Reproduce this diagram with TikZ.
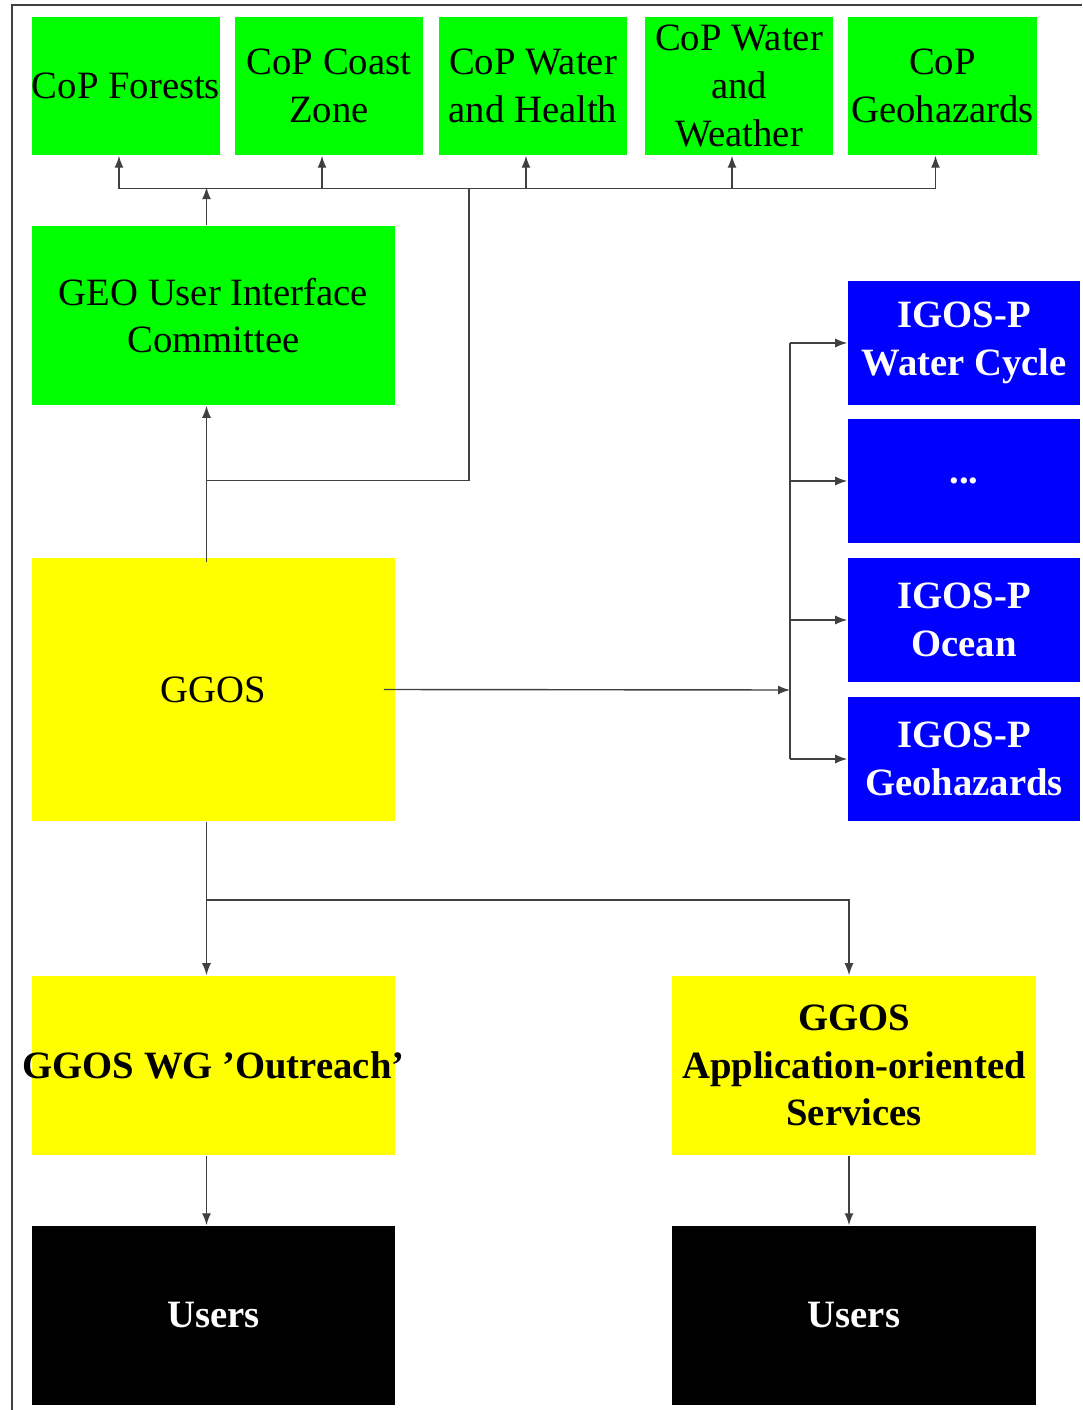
\documentclass[tikz,border=0pt]{standalone}
\usepackage{fontspec}
\setmainfont{Liberation Serif}
\usetikzlibrary{arrows.meta}
\definecolor{cgreen}{RGB}{0,255,0}
\definecolor{cblue}{RGB}{0,0,255}
\definecolor{cyellow}{RGB}{255,255,0}

\begin{document}
\begin{tikzpicture}[x=0.01cm,y=-0.01cm,
    every node/.style={inner sep=0pt,align=center,font=\fontsize{11}{13.6}\selectfont},
    cop/.style={fill=cgreen,minimum width=1.88cm,minimum height=1.38cm},
    wide/.style={minimum width=3.63cm,minimum height=1.79cm},
    igos/.style={fill=cblue,text=white,font=\fontsize{11}{13.6}\selectfont\bfseries,
      minimum width=2.32cm,minimum height=1.24cm},
    off/.style={xshift=-0.7mm},
    line/.style={draw=black!75,line width=0.4pt},
    arr/.style={line,-{Latex[length=1.2mm,width=0.9mm]}}]
  \useasboundingbox (0,0) rectangle (1082,1410);
  \draw[line] (12,1410) -- (12,5) -- (1082,5);

  \node[cop] (forests) at (126,86) {CoP Forests};
  \node[cop] (coast) at (329,86) {CoP Coast\\Zone};
  \node[cop] (health) at (533,86) {CoP Water\\and Health};
  \node[cop] (weather) at (739,86) {CoP Water\\and\\Weather};
  \node[cop] (geohaz) at (942.5,86) {CoP\\Geohazards};

  \node[wide,fill=cgreen] (uic) at (213.5,315.5) {GEO User Interface\\Committee};
  \node[wide,fill=cyellow,minimum height=2.63cm] (ggos) at (213.5,689.5) {GGOS};

  \node[igos] (wcycle) at (964,343) {IGOS-P\\Water Cycle};
  \node[igos] (dots) at (964,481) {...};
  \node[igos] (ocean) at (964,620) {IGOS-P\\Ocean};
  \node[igos] (ighaz) at (964,759) {IGOS-P\\Geohazards};

  \node[wide,fill=cyellow,font=\fontsize{11}{13.6}\selectfont\bfseries] (outreach)
    at (213.5,1065.5) {\makebox[0pt]{GGOS WG ’Outreach’}};
  \node[wide,fill=cyellow,minimum width=3.64cm,font=\fontsize{11}{13.6}\selectfont\bfseries] (apps)
    at (854,1065.5) {GGOS\\Application-oriented\\Services};
  \node[wide,fill=black,text=white,font=\fontsize{11}{13.6}\selectfont\bfseries] (users1)
    at (213.5,1315.5) {Users};
  \node[wide,fill=black,text=white,minimum width=3.64cm,font=\fontsize{11}{13.6}\selectfont\bfseries] (users2)
    at (854,1315.5) {Users};

  % communities of practice
  \coordinate (hub) at (469,188);
  \draw[line] ([off,yshift=-3.3mm]forests.south) -- ([off,yshift=-3.3mm]geohaz.south);
  \foreach \n in {forests,coast,health,weather,geohaz}
    \draw[arr] ([off,yshift=-3.3mm]\n.south) -- ([off]\n.south);
  \draw[arr] ([off]uic.north) -- ([off,yshift=3.8mm]uic.north);
  \draw[arr] ([off,yshift=-0.5mm]ggos.north) -- ([off]uic.south);
  \draw[line] ([off,yshift=-7.5mm]uic.south) -| (hub);

  % IGOS partners
  \coordinate (bus) at (790,690);
  \draw[arr] ([xshift=-1.2mm]ggos.east) -- (bus);
  \draw[line] (bus |- wcycle.west) -- (bus |- ighaz.west);
  \foreach \n in {wcycle,dots,ocean,ighaz}
    \draw[arr] (bus |- \n.west) -- (\n.west);

  % services and users
  \draw[arr] ([off]ggos.south) -- ([off]outreach.north);
  \draw[arr] ([off,yshift=-7.8mm]ggos.south) -| ([xshift=-0.5mm]apps.north);
  \draw[arr] ([off]outreach.south) -- ([off]users1.north);
  \draw[arr] ([xshift=-0.5mm]apps.south) -- ([xshift=-0.5mm]users2.north);
\end{tikzpicture}
\end{document}
